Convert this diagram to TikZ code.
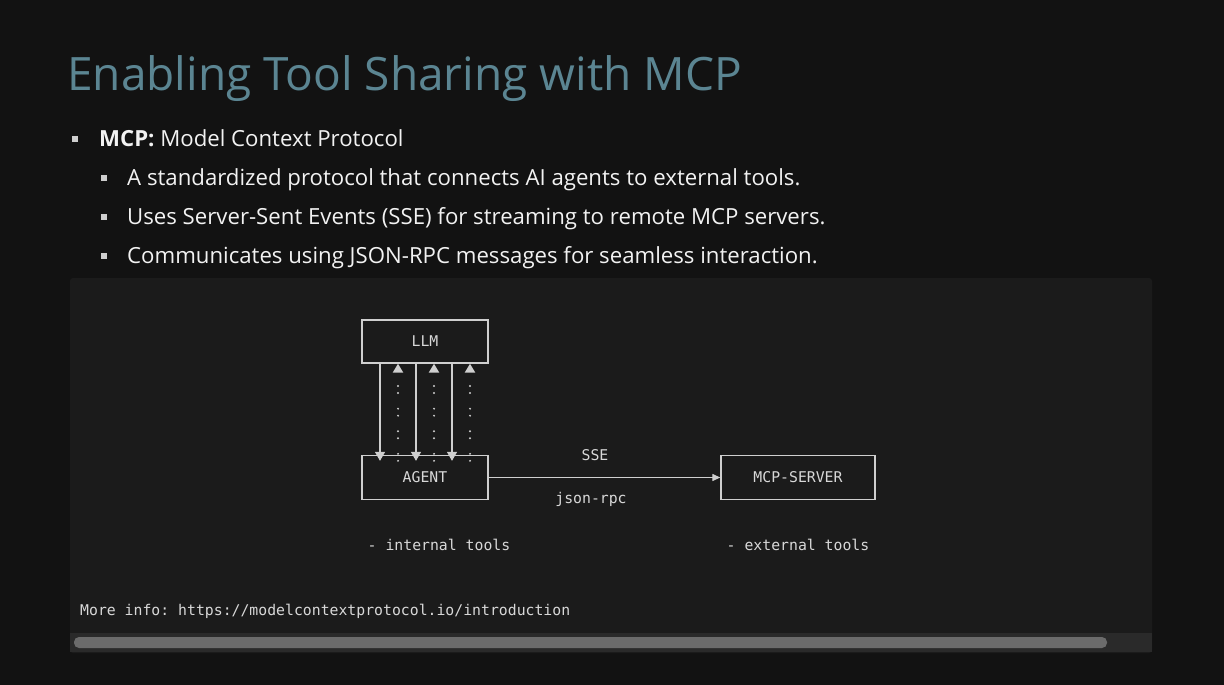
\documentclass[tikz,border=0pt]{standalone}
\usepackage{fontspec}
\setmainfont{Open Sans}
\setmonofont{DejaVu Sans Mono}
\usetikzlibrary{arrows.meta,positioning}
\definecolor{bgdark}{HTML}{121212}
\definecolor{panel}{HTML}{1B1B1B}
\definecolor{titleblue}{HTML}{5B8592}
\definecolor{boxgray}{HTML}{CFCFCF}
\definecolor{txtgray}{HTML}{D8D8D8}
\definecolor{bodywhite}{HTML}{F2F2F2}
\definecolor{track}{HTML}{2A2A2A}
\definecolor{thumb}{HTML}{6B6B6B}
\tikzstyle{block} = [rectangle, draw=boxgray, line width=1.3pt, text=txtgray,
    minimum width=126pt, minimum height=44pt, inner sep=0pt,
    font=\ttfamily\fontsize{14.8}{16}\selectfont, node distance=136pt]
\tikzstyle{server} = [block, minimum width=154pt, node distance=373pt]
\tikzstyle{label} = [text=txtgray, inner sep=0pt, font=\ttfamily\fontsize{14.8}{16}\selectfont]
\tikzstyle{item} = [anchor=base west, inner sep=0pt, text=bodywhite, font=\fontsize{22.2}{26}\selectfont]
\tikzstyle{bullet} = [rectangle, fill=bodywhite!85!black, minimum size=6pt, inner sep=0pt]
\tikzstyle{line} = [draw=boxgray, line width=1.2pt, -{Triangle[width=10pt,length=9pt]}]
\tikzstyle{back} = [line, line width=2.2pt, line cap=round, dash pattern=on 0pt off 7pt on 0pt off 15.6pt]

\begin{document}
\begin{tikzpicture}[x=1pt, y=-1pt]
    % page and code panel
    \fill[bgdark] (0,0) rectangle (1224,685);
    \fill[panel, rounded corners=3pt] (70,278) rectangle (1152,653);
    \fill[track] (70,633) rectangle (1152,652);
    \fill[thumb, rounded corners=5pt] (74,637) rectangle (1107,648);

    % title and bullets
    \node [anchor=base west, inner sep=0pt, text=titleblue, font=\fontsize{46}{52}\selectfont] (title) at (67,90) {Enabling Tool Sharing with MCP};
    \node [bullet] (b0) at (75,139) {};
    \node [item] (t0) at (99,146) {\textbf{MCP:} Model Context Protocol};
    \node [bullet] (b1) at (104,178) {};
    \node [item] (t1) at (127,185) {A standardized protocol that connects AI agents to external tools.};
    \node [bullet] (b2) at (104,217) {};
    \node [item] (t2) at (127,224) {Uses Server-Sent Events (SSE) for streaming to remote MCP servers.};
    \node [bullet] (b3) at (104,256) {};
    \node [item] (t3) at (127,263) {Communicates using JSON-RPC messages for seamless interaction.};

    % diagram
    \node [block, minimum height=43pt] (llm) at (425,341.5) {LLM};
    \node [block, below of=llm] (agent) {AGENT};
    \node [server, right of=agent] (server) {MCP-SERVER};

    \foreach \dx in {-45,-9,27}
        \path [line] ([xshift=\dx pt]llm.south) -- ([xshift=\dx pt, yshift=-6pt]agent.north);
    \foreach \dx in {-27,9,45}
        \path [back] ([xshift=\dx pt, yshift=-6pt]agent.north) -- ([xshift=\dx pt]llm.south);

    \path [line, -{Triangle[width=7pt,length=8pt]}] (agent) -- (server);
    \node [label] (sse) at (595,455) {SSE};
    \node [label] (rpc) at (591,499) {json-rpc};
    \node [label] (inner) at (439,545) {- internal tools};
    \node [label] (outer) at (798,545) {- external tools};
    \node [label, anchor=west] (info) at (80,611) {More info: https://modelcontextprotocol.io/introduction};
\end{tikzpicture}
\end{document}
